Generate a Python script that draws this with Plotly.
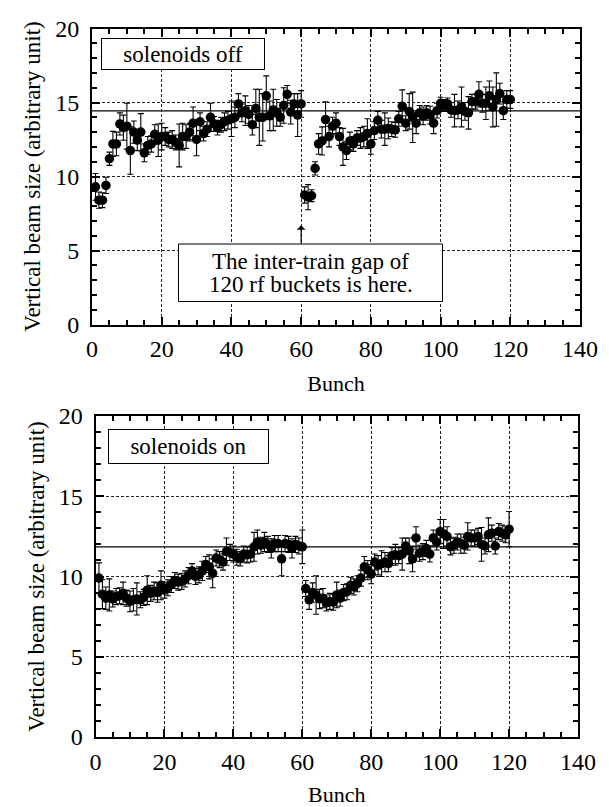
import plotly.graph_objects as go

bunch = list(range(1, 121))

size_off = [
    9.3, 8.4, 8.4, 9.4, 11.2, 12.2, 12.2, 13.55, 13.3, 13.4,
    11.75, 13.0, 12.45, 13.0, 11.6, 12.1, 12.2, 12.85, 12.45, 12.7,
    12.7, 12.5, 12.5, 12.3, 12.1, 12.7, 12.7, 13.0, 13.6, 12.5,
    13.7, 12.9, 13.2, 14.0, 13.55, 13.3, 13.5, 13.7, 13.8, 13.9,
    14.0, 14.9, 14.3, 14.45, 14.2, 13.5, 14.6, 14.0, 14.0, 15.45,
    14.1, 14.5, 14.3, 14.0, 14.8, 15.55, 14.35, 14.9, 14.15, 14.9,
    8.75, 8.6, 8.7, 10.55, 12.2, 12.4, 13.85, 12.7, 13.4, 13.6,
    12.7, 12.0, 11.75, 12.4, 12.2, 12.6, 12.6, 12.7, 12.9, 12.2,
    13.1, 13.8, 13.2, 13.2, 13.25, 13.2, 13.15, 13.9, 14.75, 13.6,
    14.4, 14.0, 13.6, 14.3, 14.1, 14.3, 14.15, 13.6, 14.45, 14.95,
    14.8, 14.9, 14.5, 14.45, 14.5, 14.7, 14.4, 14.3, 15.05, 15.05,
    15.55, 14.95, 14.95, 15.45, 14.7, 15.2, 15.6, 14.45, 15.2, 15.2,
]
err_off = [
    0.9, 0.55, 0.5, 0.55, 0.45, 0.85, 0.8, 0.75, 0.85, 1.55,
    1.6, 0.75, 0.7, 1.25, 0.6, 0.6, 0.55, 0.65, 1.1, 0.9,
    0.6, 0.5, 0.6, 0.5, 1.45, 0.9, 0.8, 0.6, 1.1, 1.1,
    0.6, 0.5, 0.5, 0.95, 0.5, 0.5, 0.5, 0.6, 0.6, 1.2,
    0.7, 0.7, 0.6, 1.0, 0.6, 0.7, 1.3, 1.9, 1.6, 1.35,
    1.0, 1.4, 0.9, 0.6, 1.2, 0.6, 0.8, 0.7, 1.45, 0.9,
    0.55, 0.85, 0.4, 0.45, 0.7, 0.95, 1.2, 0.7, 0.6, 0.7,
    0.6, 1.25, 0.6, 0.6, 0.5, 0.5, 0.7, 0.7, 1.0, 0.7,
    0.6, 0.6, 0.6, 1.1, 0.7, 0.5, 0.5, 0.5, 1.1, 0.5,
    1.2, 1.7, 0.7, 0.5, 0.6, 0.5, 0.6, 0.7, 0.5, 0.4,
    0.4, 0.4, 0.5, 1.1, 0.6, 1.35, 0.6, 1.1, 0.5, 0.5,
    0.85, 0.6, 1.1, 1.0, 1.35, 1.8, 0.7, 0.6, 0.6, 0.6,
]

size_on = [
    9.9, 8.9, 8.65, 8.85, 8.6, 8.75, 8.8, 8.95, 8.65, 8.45,
    8.55, 8.6, 8.55, 8.7, 9.15, 8.95, 9.1, 9.0, 9.45, 9.15,
    9.3, 9.5, 9.75, 9.65, 9.7, 9.85, 10.05, 10.35, 10.0, 10.1,
    10.35, 10.75, 10.6, 10.2, 11.15, 11.05, 10.9, 11.55, 11.5, 11.4,
    11.2, 11.1, 11.4, 11.35, 11.4, 11.85, 12.15, 11.95, 12.15, 12.0,
    11.75, 12.05, 12.05, 11.1, 12.05, 12.0, 11.75, 12.0, 11.9, 11.85,
    9.25, 8.55, 9.0, 8.85, 8.6, 8.65, 8.35, 8.45, 8.4, 8.85,
    8.65, 9.0, 9.05, 9.45, 9.35, 9.55, 9.9, 10.6, 10.4, 10.15,
    10.9, 10.7, 10.8, 10.9, 10.8, 11.3, 11.35, 11.3, 11.4, 11.9,
    11.6, 11.1, 12.4, 11.45, 11.55, 11.75, 11.4, 12.4, 12.15, 12.8,
    12.65, 12.5, 11.85, 11.95, 12.15, 12.05, 11.95, 12.5, 12.4, 12.4,
    12.5, 12.0, 11.9, 12.6, 12.7, 11.9, 12.8, 12.7, 12.6, 12.95,
]
err_on = [
    0.95, 0.9, 0.7, 1.0, 0.5, 0.5, 0.5, 0.7, 0.5, 0.65,
    0.7, 1.0, 0.5, 0.5, 0.9, 0.5, 0.55, 0.6, 0.9, 0.5,
    0.5, 0.5, 0.5, 0.5, 0.5, 0.5, 0.5, 0.45, 0.5, 0.5,
    0.6, 0.5, 0.75, 0.9, 0.5, 0.5, 0.5, 0.85, 0.5, 0.5,
    0.5, 0.45, 0.5, 0.5, 0.5, 0.9, 0.75, 0.5, 0.6, 0.5,
    0.6, 0.5, 0.5, 1.05, 0.5, 0.5, 0.6, 0.5, 0.5, 1.05,
    0.5, 0.6, 0.6, 1.2, 0.6, 0.6, 0.5, 0.5, 0.5, 0.8,
    0.5, 0.5, 0.5, 0.5, 0.5, 0.5, 0.5, 0.65, 0.6, 0.6,
    0.5, 0.6, 0.8, 0.6, 0.5, 0.5, 0.65, 0.5, 1.0, 0.5,
    0.8, 0.8, 0.7, 0.5, 0.5, 0.5, 0.5, 0.5, 0.5, 0.75,
    0.9, 0.6, 0.5, 0.5, 0.5, 0.6, 0.5, 0.85, 0.5, 0.5,
    0.5, 1.05, 0.5, 1.05, 0.5, 0.5, 0.5, 0.5, 0.5, 1.1,
]

level_off = 14.43
level_on = 11.84
gap_arrow_tip = 6.7
gap_arrow_tail = 5.35
gap_bunch = 60

x_ticks = [0, 20, 40, 60, 80, 100, 120, 140]
y_ticks = [0, 5, 10, 15, 20]

label_off = "solenoids off"
label_on = "solenoids on"
gap_lines = ["The inter-train gap of", "120 rf buckets is here."]

FONT = "Liberation Serif, Times New Roman, serif"

fig = go.Figure()
for vals, errs, xa, ya in [(size_off, err_off, "x", "y"), (size_on, err_on, "x2", "y2")]:
    fig.add_trace(go.Scatter(
        x=bunch, y=vals, mode="markers", xaxis=xa, yaxis=ya,
        marker=dict(color="black", size=9.5),
        error_y=dict(type="data", array=errs, visible=True, color="black",
                     thickness=1.1, width=3),
        showlegend=False, hoverinfo="skip",
    ))

def xaxis_style(domain, anchor):
    return dict(
        domain=domain, anchor=anchor, range=[0, 140], tickvals=x_ticks,
        showline=True, linewidth=2, linecolor="black", mirror="allticks",
        ticks="inside", ticklen=8, tickwidth=2, tickcolor="black",
        minor=dict(dtick=5, ticks="inside", ticklen=5, tickwidth=2, tickcolor="black"),
        showgrid=True, gridcolor="#222", gridwidth=1, griddash="3px,2px",
        zeroline=False, tickfont=dict(family=FONT, size=24, color="black"),
        ticklabelstandoff=2,
        title=dict(text="Bunch", font=dict(family=FONT, size=22, color="black"), standoff=14),
        automargin=False, fixedrange=True,
    )

def yaxis_style(domain, anchor):
    return dict(
        domain=domain, anchor=anchor, range=[0, 20], tickvals=y_ticks,
        showline=True, linewidth=2, linecolor="black", mirror="allticks",
        ticks="inside", ticklen=8, tickwidth=2, tickcolor="black",
        minor=dict(dtick=1, ticks="inside", ticklen=5, tickwidth=2, tickcolor="black"),
        showgrid=True, gridcolor="#222", gridwidth=1, griddash="3px,2px",
        zeroline=False, tickfont=dict(family=FONT, size=24, color="black"),
        ticklabelstandoff=6,
        title=dict(text="Vertical beam size (arbitrary unit)",
                   font=dict(family=FONT, size=23, color="black"), standoff=8),
        automargin=False, fixedrange=True,
    )

W, H = 609, 807
fig.update_layout(
    width=W, height=H, margin=dict(l=0, r=0, t=0, b=0),
    paper_bgcolor="white", plot_bgcolor="white",
    xaxis=xaxis_style([92 / W, 580 / W], "y"),
    yaxis=yaxis_style([1 - 324.5 / H, 1 - 28.5 / H], "x"),
    xaxis2=xaxis_style([95.5 / W, 578 / W], "y2"),
    yaxis2=yaxis_style([1 - 737 / H, 1 - 416 / H], "x2"),
    font=dict(family=FONT, color="black"),
)

fig.add_shape(type="line", xref="x domain", yref="y", x0=0, x1=1, y0=level_off, y1=level_off,
              line=dict(color="black", width=1.2))
fig.add_shape(type="line", xref="x2 domain", yref="y2", x0=0, x1=1, y0=level_on, y1=level_on,
              line=dict(color="black", width=1.2))

box_font = dict(family=FONT, size=23, color="black")
fig.add_annotation(xref="paper", yref="paper", x=183 / W, y=1 - 54 / H, text=label_off,
                   xanchor="center", yanchor="middle",
                   showarrow=False, font=box_font, bordercolor="black", borderwidth=1,
                   width=160, height=28, borderpad=1, bgcolor="white")
fig.add_annotation(xref="paper", yref="paper", x=188 / W, y=1 - 446.5 / H, text=label_on,
                   xanchor="center", yanchor="middle",
                   showarrow=False, font=box_font, bordercolor="black", borderwidth=1,
                   width=157, height=31, borderpad=1, bgcolor="white")

# box around the two-line gap note
fig.add_shape(type="rect", xref="paper", yref="paper",
              x0=178.5 / W, x1=442.5 / W, y0=1 - 301.5 / H, y1=1 - 244 / H,
              line=dict(color="black", width=1), fillcolor="white", layer="above")
for line_text, ypx in zip(gap_lines, [261, 284]):
    fig.add_annotation(xref="paper", yref="paper", x=310.5 / W, y=1 - ypx / H,
                       xanchor="center", yanchor="middle", text=line_text,
                       showarrow=False, font=box_font)

fig.add_annotation(xref="x", yref="y", x=gap_bunch, y=gap_arrow_tip,
                   axref="x", ayref="y", ax=gap_bunch, ay=gap_arrow_tail,
                   text="", showarrow=True, arrowhead=1, arrowsize=1.2, arrowwidth=1.2,
                   arrowcolor="black")

fig.write_html("out.html")
